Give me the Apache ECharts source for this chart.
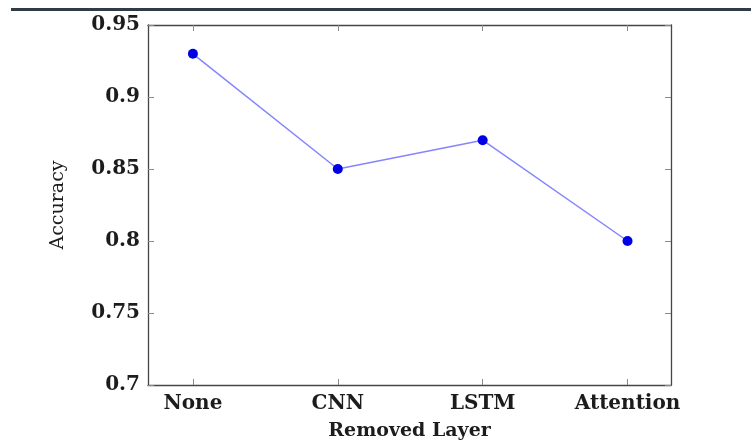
<!DOCTYPE html>
<html>
<head>
<meta charset="utf-8">
<script src="https://cdn.jsdelivr.net/npm/echarts@6/dist/echarts.min.js"></script>
<style>
  html, body { margin: 0; padding: 0; background: #fff; }
  #chart { width: 751px; height: 446px; }
</style>
</head>
<body>
<div id="chart"></div>
<script>
// Ablation study: accuracy after removing each layer
const layers = ['None', 'CNN', 'LSTM', 'Attention'];
const accuracy = [0.93, 0.85, 0.87, 0.80];
const yTicks = [0.7, 0.75, 0.8, 0.85, 0.9, 0.95];

const FONT = 'DejaVu Serif';
const positions = layers.map((_, i) => i);
const points = layers.map((_, i) => [i, accuracy[i]]);

const frame = { show: true, onZero: false, lineStyle: { color: '#454545', width: 1.3 } };
const innerTick = { show: true, inside: true, length: 6, lineStyle: { color: '#8a8a8a', width: 1 } };

const chart = echarts.init(document.getElementById('chart'));
chart.setOption({
  animation: false,
  backgroundColor: '#ffffff',
  grid: { left: 148, right: 80, top: 25, bottom: 61, containLabel: false },
  xAxis: [
    {
      type: 'value', position: 'bottom', min: -0.31, max: 3.3,
      axisLine: frame,
      axisTick: Object.assign({}, innerTick, { customValues: positions }),
      splitLine: { show: false },
      axisLabel: {
        customValues: positions,
        formatter: v => layers[Math.round(v)],
        fontFamily: FONT, fontWeight: 'bold', fontSize: 20, color: '#1c1c1c', margin: 9
      },
      name: 'Removed Layer', nameLocation: 'middle', nameGap: 37,
      nameTextStyle: { fontFamily: FONT, fontWeight: 'bold', fontSize: 19, color: '#1c1c1c' }
    },
    {
      type: 'value', position: 'top', min: -0.31, max: 3.3,
      axisLine: frame,
      axisTick: Object.assign({}, innerTick, { customValues: positions }),
      axisLabel: { show: false },
      splitLine: { show: false }
    }
  ],
  yAxis: [
    {
      type: 'value', position: 'left', min: 0.7, max: 0.95, interval: 0.05,
      axisLine: frame,
      axisTick: Object.assign({}, innerTick, { customValues: yTicks }),
      splitLine: { show: false },
      axisLabel: {
        customValues: yTicks,
        formatter: v => String(parseFloat(v.toFixed(2))),
        fontFamily: FONT, fontWeight: 'bold', fontSize: 20, color: '#1c1c1c', margin: 8
      },
      name: 'Accuracy', nameLocation: 'middle', nameRotate: 90, nameGap: 80,
      nameTextStyle: { fontFamily: FONT, fontSize: 19, color: '#1c1c1c' }
    },
    {
      type: 'value', position: 'right', min: 0.7, max: 0.95, interval: 0.05,
      axisLine: frame,
      axisTick: Object.assign({}, innerTick, { customValues: yTicks }),
      axisLabel: { show: false },
      splitLine: { show: false }
    }
  ],
  graphic: [
    {
      type: 'line', silent: true,
      shape: { x1: 11, y1: 9.5, x2: 751, y2: 9.5 },
      style: { stroke: '#2f3b47', lineWidth: 3 }
    }
  ],
  series: [
    {
      type: 'line',
      xAxisIndex: 0, yAxisIndex: 0,
      data: points,
      symbol: 'circle', symbolSize: 10,
      lineStyle: { color: '#8585ff', width: 1.5 },
      itemStyle: { color: '#0000e6', borderWidth: 0 }
    }
  ]
});
</script>
</body>
</html>
